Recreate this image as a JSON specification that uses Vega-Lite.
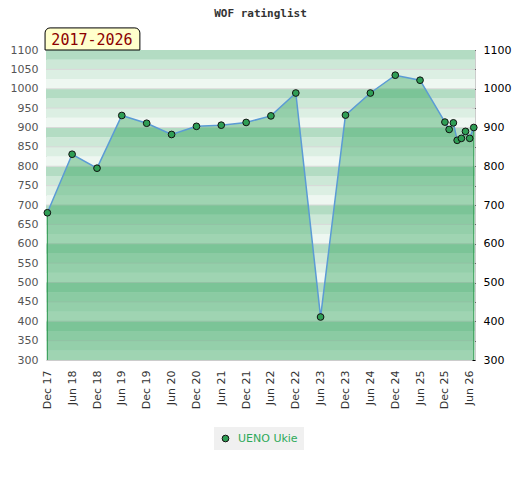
{
  "$schema": "https://vega.github.io/schema/vega-lite/v6.json",
  "width": 429,
  "height": 310,
  "autosize": {"type": "none"},
  "padding": {"left": 46, "top": 50, "right": 45, "bottom": 120},
  "title": {
    "text": "WOF ratinglist",
    "font": "DejaVu Sans Mono",
    "fontSize": 11,
    "fontWeight": "bold",
    "color": "#333333",
    "anchor": "middle",
    "frame": "group",
    "offset": 8
  },
  "datasets": {
    "ratings": [
      {"date": "2017-12-01", "rating": 680},
      {"date": "2018-06-01", "rating": 831},
      {"date": "2018-12-01", "rating": 795},
      {"date": "2019-06-01", "rating": 931},
      {"date": "2019-12-01", "rating": 911},
      {"date": "2020-06-01", "rating": 882},
      {"date": "2020-12-01", "rating": 903},
      {"date": "2021-06-01", "rating": 906},
      {"date": "2021-12-01", "rating": 913},
      {"date": "2022-06-01", "rating": 930},
      {"date": "2022-12-01", "rating": 989},
      {"date": "2023-06-01", "rating": 411},
      {"date": "2023-12-01", "rating": 932},
      {"date": "2024-06-01", "rating": 989},
      {"date": "2024-12-01", "rating": 1035},
      {"date": "2025-06-01", "rating": 1022},
      {"date": "2025-12-01", "rating": 914},
      {"date": "2026-01-01", "rating": 895},
      {"date": "2026-02-01", "rating": 912},
      {"date": "2026-03-01", "rating": 867},
      {"date": "2026-04-01", "rating": 872},
      {"date": "2026-05-01", "rating": 890},
      {"date": "2026-06-01", "rating": 872},
      {"date": "2026-07-01", "rating": 900}
    ],
    "bands": [
      {"lo": 300, "hi": 325}, {"lo": 325, "hi": 350}, {"lo": 350, "hi": 375}, {"lo": 375, "hi": 400},
      {"lo": 400, "hi": 425}, {"lo": 425, "hi": 450}, {"lo": 450, "hi": 475}, {"lo": 475, "hi": 500},
      {"lo": 500, "hi": 525}, {"lo": 525, "hi": 550}, {"lo": 550, "hi": 575}, {"lo": 575, "hi": 600},
      {"lo": 600, "hi": 625}, {"lo": 625, "hi": 650}, {"lo": 650, "hi": 675}, {"lo": 675, "hi": 700},
      {"lo": 700, "hi": 725}, {"lo": 725, "hi": 750}, {"lo": 750, "hi": 775}, {"lo": 775, "hi": 800},
      {"lo": 800, "hi": 825}, {"lo": 825, "hi": 850}, {"lo": 850, "hi": 875}, {"lo": 875, "hi": 900},
      {"lo": 900, "hi": 925}, {"lo": 925, "hi": 950}, {"lo": 950, "hi": 975}, {"lo": 975, "hi": 1000},
      {"lo": 1000, "hi": 1025}, {"lo": 1025, "hi": 1050}, {"lo": 1050, "hi": 1075}, {"lo": 1075, "hi": 1100}
    ]
  },
  "layer": [
    {
      "data": {"name": "bands"},
      "transform": [{"calculate": "datum.lo % 100", "as": "q"}],
      "mark": {"type": "rect"},
      "encoding": {
        "y": {
          "field": "lo",
          "type": "quantitative",
          "title": null,
          "scale": {"domain": [300, 1100], "zero": false, "nice": false},
          "axis": {
            "orient": "left",
            "values": [300, 350, 400, 450, 500, 550, 600, 650, 700, 750, 800, 850, 900, 950, 1000, 1050, 1100],
            "tickCount": 20,
            "format": "d",
            "ticks": false,
            "domain": false,
            "grid": false,
            "labelColor": "#555555",
            "labelPadding": 8
          }
        },
        "y2": {"field": "hi"},
        "color": {
          "field": "q",
          "type": "ordinal",
          "scale": {"domain": [0, 25, 50, 75], "range": ["#eef7f1", "#dcefe3", "#cde8d7", "#b3dcc3"]},
          "legend": null
        }
      }
    },
    {
      "data": {"name": "bands"},
      "transform": [{"filter": "datum.lo % 50 == 0 && datum.lo > 300"}],
      "mark": {"type": "rule", "color": "#d9d9d9", "strokeWidth": 1},
      "encoding": {
        "y": {
          "field": "lo",
          "type": "quantitative",
          "title": null,
          "axis": {
            "orient": "right",
            "values": [300, 350, 400, 450, 500, 550, 600, 650, 700, 750, 800, 850, 900, 950, 1000, 1050, 1100],
            "tickCount": 20,
            "format": "d",
            "labelExpr": "datum.value % 100 == 0 ? datum.label : ''",
            "tickSize": -3,
            "tickColor": "#000000",
            "domain": false,
            "grid": false,
            "labelColor": "#000000",
            "labelPadding": 11
          }
        }
      }
    },
    {
      "data": {"name": "ratings"},
      "mark": {"type": "area", "color": "#27a055", "opacity": 0.4},
      "encoding": {
        "x": {
          "field": "date",
          "type": "temporal",
          "title": null,
          "scale": {"domain": [{"year": 2017, "month": 11, "date": 21}, {"year": 2026, "month": 7, "date": 10}]},
          "axis": {
            "values": [
              {"year": 2017, "month": 12, "date": 1}, {"year": 2018, "month": 6, "date": 1},
              {"year": 2018, "month": 12, "date": 1}, {"year": 2019, "month": 6, "date": 1},
              {"year": 2019, "month": 12, "date": 1}, {"year": 2020, "month": 6, "date": 1},
              {"year": 2020, "month": 12, "date": 1}, {"year": 2021, "month": 6, "date": 1},
              {"year": 2021, "month": 12, "date": 1}, {"year": 2022, "month": 6, "date": 1},
              {"year": 2022, "month": 12, "date": 1}, {"year": 2023, "month": 6, "date": 1},
              {"year": 2023, "month": 12, "date": 1}, {"year": 2024, "month": 6, "date": 1},
              {"year": 2024, "month": 12, "date": 1}, {"year": 2025, "month": 6, "date": 1},
              {"year": 2025, "month": 12, "date": 1}, {"year": 2026, "month": 6, "date": 1}
            ],
            "tickCount": 20,
            "format": "%b %y",
            "labelAngle": 270,
            "labelOverlap": false,
            "ticks": false,
            "domain": false,
            "grid": false,
            "labelColor": "#333333",
            "labelPadding": 10
          }
        },
        "y": {"field": "rating", "type": "quantitative", "title": null, "axis": null},
        "y2": {"datum": 300}
      }
    },
    {
      "data": {"name": "ratings", "format": {"parse": {"date": "date"}}},
      "transform": [
        {"joinaggregate": [{"op": "min", "field": "date", "as": "d0"}, {"op": "max", "field": "date", "as": "d1"}]},
        {"filter": "time(datum.date) == time(datum.d0) || time(datum.date) == time(datum.d1)"}
      ],
      "mark": {"type": "rule", "color": "#2e9a50", "strokeWidth": 1},
      "encoding": {
        "x": {"field": "date", "type": "temporal", "title": null},
        "y": {"field": "rating", "type": "quantitative", "title": null, "axis": null},
        "y2": {"datum": 300}
      }
    },
    {
      "data": {"name": "ratings"},
      "mark": {"type": "line", "color": "#5b9bd5", "strokeWidth": 1.5},
      "encoding": {
        "x": {"field": "date", "type": "temporal", "title": null},
        "y": {"field": "rating", "type": "quantitative", "title": null, "axis": null}
      }
    },
    {
      "data": {"name": "ratings"},
      "mark": {"type": "circle", "size": 45, "stroke": "#111111", "strokeWidth": 1, "opacity": 1},
      "encoding": {
        "x": {"field": "date", "type": "temporal", "title": null},
        "y": {"field": "rating", "type": "quantitative", "title": null, "axis": null},
        "fill": {
          "datum": "UENO Ukie",
          "type": "nominal",
          "scale": {"range": ["#2f9e55"]},
          "legend": {
            "title": null,
            "orient": "none",
            "legendX": 168,
            "legendY": 377,
            "direction": "horizontal",
            "symbolType": "circle",
            "symbolSize": 45,
            "symbolStrokeColor": "#111111",
            "symbolStrokeWidth": 1,
            "labelColor": "#2eaa5a",
            "labelFont": "DejaVu Sans",
            "labelFontSize": 11,
            "labelOffset": 7,
            "fillColor": "#f0f0f0",
            "padding": 6
          }
        }
      }
    },
    {
      "data": {"values": [{"label": "2017-2026"}]},
      "mark": {"type": "rect", "fill": "#ffffcc", "stroke": "#000000", "strokeWidth": 1, "cornerRadiusTopLeft": 5, "cornerRadiusTopRight": 5},
      "encoding": {
        "x": {"datum": {"year": 2017, "month": 11, "date": 14}, "type": "temporal", "title": null},
        "x2": {"datum": {"year": 2019, "month": 10, "date": 12}},
        "y": {"datum": 1157, "type": "quantitative", "title": null, "axis": null},
        "y2": {"datum": 1100}
      }
    },
    {
      "data": {"values": [{"label": "2017-2026"}]},
      "mark": {"type": "text", "font": "DejaVu Sans Mono", "fontSize": 15, "color": "#8b0000", "align": "center", "baseline": "middle"},
      "encoding": {
        "x": {"datum": {"year": 2018, "month": 10, "date": 25}, "type": "temporal", "title": null},
        "y": {"datum": 1127, "type": "quantitative", "title": null, "axis": null},
        "text": {"field": "label"}
      }
    }
  ],
  "resolve": {"scale": {"y": "shared"}, "axis": {"y": "independent"}},
  "config": {
    "view": {"stroke": "#cccccc"},
    "axis": {"labelFont": "DejaVu Sans", "labelFontSize": 11}
  }
}
